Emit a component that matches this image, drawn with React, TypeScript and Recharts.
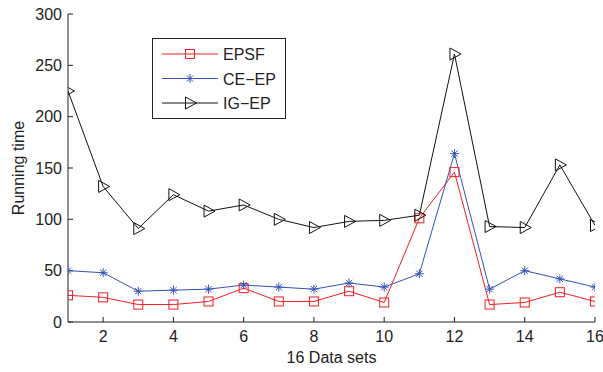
import React from 'react';
import { LineChart, Line, XAxis, YAxis, Legend, Label } from 'recharts';

const sets = [1, 2, 3, 4, 5, 6, 7, 8, 9, 10, 11, 12, 13, 14, 15, 16];
const epsf = [26, 24, 17, 17, 20, 33, 20, 20, 30, 19, 101, 146, 17, 19, 29, 20];
const ceEp = [50, 48, 30, 31, 32, 36, 34, 32, 38, 34, 47, 164, 32, 50, 42, 34];
const igEp = [225, 132, 91, 124, 108, 114, 100, 92, 98, 99, 104, 261, 93, 92, 153, 94];

const xTicks = [2, 4, 6, 8, 10, 12, 14, 16];
const yTicks = [0, 50, 100, 150, 200, 250, 300];
const seriesOrder = ['epsf', 'ceEp', 'igEp'];

const data = sets.map((s, i) => ({ set: s, epsf: epsf[i], ceEp: ceEp[i], igEp: igEp[i] }));

const RED = '#f01e23';
const BLUE = '#3552b5';
const BLACK = '#111';
const AXIS = '#222';
const FONT = '"Liberation Sans", Arial, Helvetica, sans-serif';

const markerOf: Record<string, string> = { epsf: 'square', ceEp: 'star', igEp: 'tri' };

function Marker({ kind, cx, cy, color }: { kind: string; cx: number; cy: number; color: string }) {
  if (cx == null || cy == null) return null;
  if (kind === 'square') {
    return <rect x={cx - 4.5} y={cy - 4.5} width={9} height={9} fill="none" stroke={color} strokeWidth={1} />;
  }
  if (kind === 'tri') {
    return (
      <polygon
        points={`${cx - 4.5},${cy - 6} ${cx + 6.5},${cy} ${cx - 4.5},${cy + 6}`}
        fill="none"
        stroke={color}
        strokeWidth={1}
      />
    );
  }
  const r = 4.5;
  const d = r * 0.7071;
  return (
    <g stroke={color} strokeWidth={1}>
      <line x1={cx} y1={cy - r} x2={cx} y2={cy + r} />
      <line x1={cx - r} y1={cy} x2={cx + r} y2={cy} />
      <line x1={cx - d} y1={cy - d} x2={cx + d} y2={cy + d} />
      <line x1={cx - d} y1={cy + d} x2={cx + d} y2={cy - d} />
    </g>
  );
}

function dotFor(kind: string, color: string) {
  return (p: any) => <Marker key={`${kind}-${p.index}`} kind={kind} cx={p.cx} cy={p.cy} color={color} />;
}

function LegendBox({ payload }: any) {
  const items = [...(payload || [])].sort(
    (a: any, b: any) => seriesOrder.indexOf(a.dataKey) - seriesOrder.indexOf(b.dataKey)
  );
  return (
    <svg width={134} height={81} style={{ display: 'block' }}>
      <rect x={0.5} y={0.5} width={133} height={80} fill="#fff" stroke={AXIS} strokeWidth={1} />
      {items.map((it: any, i: number) => {
        const y = 16 + i * 24.5;
        return (
          <g key={it.dataKey}>
            <line x1={10} y1={y} x2={66} y2={y} stroke={it.color} strokeWidth={1} />
            <Marker kind={markerOf[it.dataKey]} cx={38} cy={y} color={it.color} />
            <text x={71} y={y + 6} fontSize={16} fontFamily={FONT} fill="#222">
              {it.value}
            </text>
          </g>
        );
      })}
    </svg>
  );
}

export default function App() {
  const tickStyle = { fill: '#222', fontSize: 16, fontFamily: FONT };
  return (
    <div style={{ position: 'absolute', left: 0, top: 0, background: '#fff' }}>
      <LineChart width={603} height={372} data={data} margin={{ top: 14, right: 8, left: 0, bottom: 0 }}>
        <XAxis
          dataKey="set"
          type="number"
          domain={[1, 16]}
          ticks={xTicks}
          allowDataOverflow
          height={50}
          tickSize={-5}
          tickMargin={14}
          stroke={AXIS}
          tick={tickStyle}
        >
          <Label
            content={({ viewBox }: any) => (
              <text
                x={viewBox.x + viewBox.width / 2}
                y={viewBox.y + 41}
                textAnchor="middle"
                fontSize={16}
                fontFamily={FONT}
                fill="#222"
              >
                16 Data sets
              </text>
            )}
          />
        </XAxis>
        <XAxis
          xAxisId="top"
          orientation="top"
          dataKey="set"
          type="number"
          domain={[1, 16]}
          ticks={xTicks}
          allowDataOverflow
          height={0}
          tickSize={-5}
          tick={false}
          stroke={AXIS}
        />
        <YAxis
          type="number"
          domain={[0, 300]}
          ticks={yTicks}
          allowDataOverflow
          width={68}
          tickSize={-5}
          tickMargin={11}
          stroke={AXIS}
          tick={tickStyle}
        >
          <Label
            content={({ viewBox }: any) => {
              const x = viewBox.x + 18;
              const y = viewBox.y + viewBox.height / 2;
              return (
                <text
                  x={x}
                  y={y}
                  transform={`rotate(-90, ${x}, ${y})`}
                  textAnchor="middle"
                  dominantBaseline="central"
                  fontSize={16}
                  fontFamily={FONT}
                  fill="#222"
                >
                  Running time
                </text>
              );
            }}
          />
        </YAxis>
        <YAxis
          yAxisId="right"
          orientation="right"
          type="number"
          domain={[0, 300]}
          ticks={yTicks}
          allowDataOverflow
          width={0}
          tickSize={-5}
          tick={false}
          stroke={AXIS}
        />
        <Legend
          layout="vertical"
          align="center"
          verticalAlign="middle"
          content={<LegendBox />}
          wrapperStyle={{ position: 'absolute', left: 152, top: 38, width: 134, height: 81 }}
        />
        <Line
          name="EPSF"
          dataKey="epsf"
          stroke={RED}
          strokeWidth={1}
          dot={dotFor('square', RED)}
          isAnimationActive={false}
        />
        <Line
          name={'CE\u2212EP'}
          dataKey="ceEp"
          stroke={BLUE}
          strokeWidth={1}
          dot={dotFor('star', BLUE)}
          isAnimationActive={false}
        />
        <Line
          name={'IG\u2212EP'}
          dataKey="igEp"
          stroke={BLACK}
          strokeWidth={1}
          dot={dotFor('tri', BLACK)}
          isAnimationActive={false}
        />
      </LineChart>
    </div>
  );
}
